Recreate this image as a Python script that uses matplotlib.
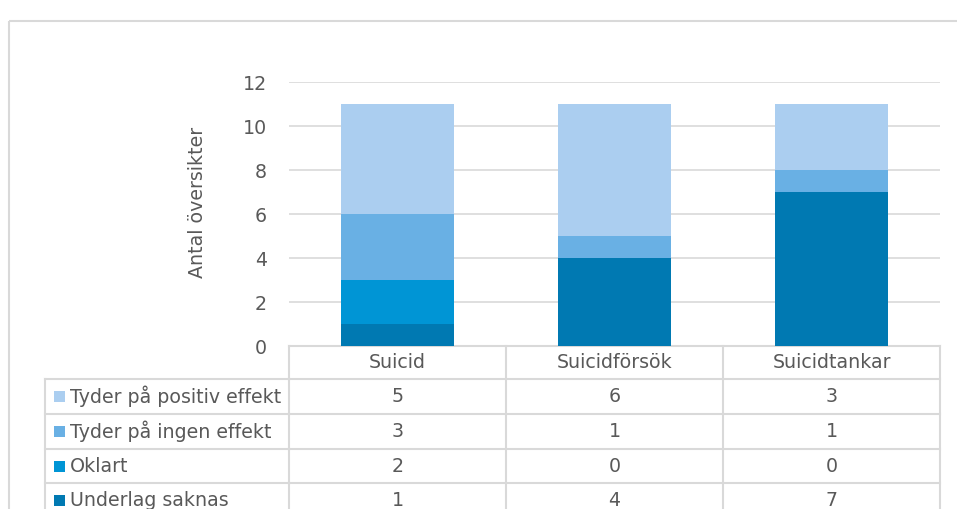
import numpy as np
import matplotlib
matplotlib.use("Agg")
import matplotlib.pyplot as plt
from matplotlib.transforms import blended_transform_factory
from matplotlib.patches import Rectangle

categories = ["Suicid", "Suicidförsök", "Suicidtankar"]
# bottom-to-top stacking order
series = ["Underlag saknas", "Oklart", "Tyder på ingen effekt", "Tyder på positiv effekt"]
underlag = [1, 4, 7]
oklart = [2, 0, 0]
ingen = [3, 1, 1]
positiv = [5, 6, 3]
colors = ["#0079B2", "#0095D5", "#69B0E4", "#ABCEF0"]
yticks = [0, 2, 4, 6, 8, 10, 12]

values = [underlag, oklart, ingen, positiv]
grey = "#595959"
line_c = "#D9D9D9"
plt.rcParams["font.family"] = ["DejaVu Sans"]
fs = 13.7

W, H = 957, 509
fig = plt.figure(figsize=(W / 100, H / 100), dpi=100)

# overlay in pixel coordinates for frame and table
ov = fig.add_axes([0, 0, 1, 1], zorder=0)
ov.set_xlim(0, W)
ov.set_ylim(H, 0)
ov.axis("off")
ov.add_patch(Rectangle((9, 21), W + 20, H, fill=False, edgecolor=line_c, lw=1.5))

# bar area
left, right, bottom, top = 289, 940, 346, 82
ax = fig.add_axes([left / W, (H - bottom) / H, (right - left) / W, (bottom - top) / H], zorder=1)
ax.patch.set_alpha(0)
x = np.arange(len(categories))
base = np.zeros(len(categories))
for name, vals, c in zip(series, values, colors):
    ax.bar(x, vals, bottom=base, width=0.52, color=c, label=name, zorder=2)
    base += np.array(vals)
ax.set_xlim(-0.5, len(categories) - 0.5)
ax.set_ylim(0, 12)
ax.set_yticks(yticks)
ax.tick_params(axis="y", length=0, pad=16, labelsize=fs, labelcolor=grey)
ax.set_xticks([])
ax.yaxis.grid(True, color=line_c, lw=1.2, zorder=0)
for s in ax.spines.values():
    s.set_visible(False)
ax.set_ylabel("Antal översikter", fontsize=fs, color=grey)
ax.yaxis.set_label_coords(-0.126, 0.545)

# data table below
tr = blended_transform_factory(ax.transData, ov.transData)
row_top = [346, 379, 414, 449, 483]
row_h = 34.5
lab_left = 45
# header row
ov.plot([-0.5, len(categories) - 0.5], [346, 346], color=line_c, lw=1.5, transform=tr)
for i, cat in enumerate(categories):
    ov.text(i, (346 + 379) / 2, cat, ha="center", va="center", fontsize=fs, color=grey, transform=tr)
for k in range(len(categories) + 1):
    ov.plot([k - 0.5, k - 0.5], [346, H + 5], color=line_c, lw=1.5, transform=tr)
ov.plot([lab_left, lab_left], [379, H + 5], color=line_c, lw=1.5)
rows = list(range(len(series)))[::-1]
for r, si in enumerate(rows):
    yt = row_top[r + 1]
    ov.plot([lab_left, left], [yt, yt], color=line_c, lw=1.5)
    ov.plot([-0.5, len(categories) - 0.5], [yt, yt], color=line_c, lw=1.5, transform=tr)
    yc = yt + row_h / 2
    ov.add_patch(Rectangle((54, yc - 5.5), 11, 11, color=colors[si], lw=0))
    ov.text(70, yc, series[si], ha="left", va="center", fontsize=fs, color=grey)
    for i in range(len(categories)):
        ov.text(i, yc, str(values[si][i]), ha="center", va="center", fontsize=fs,
                color=grey, transform=tr)

fig.savefig("out.png", dpi=100)
